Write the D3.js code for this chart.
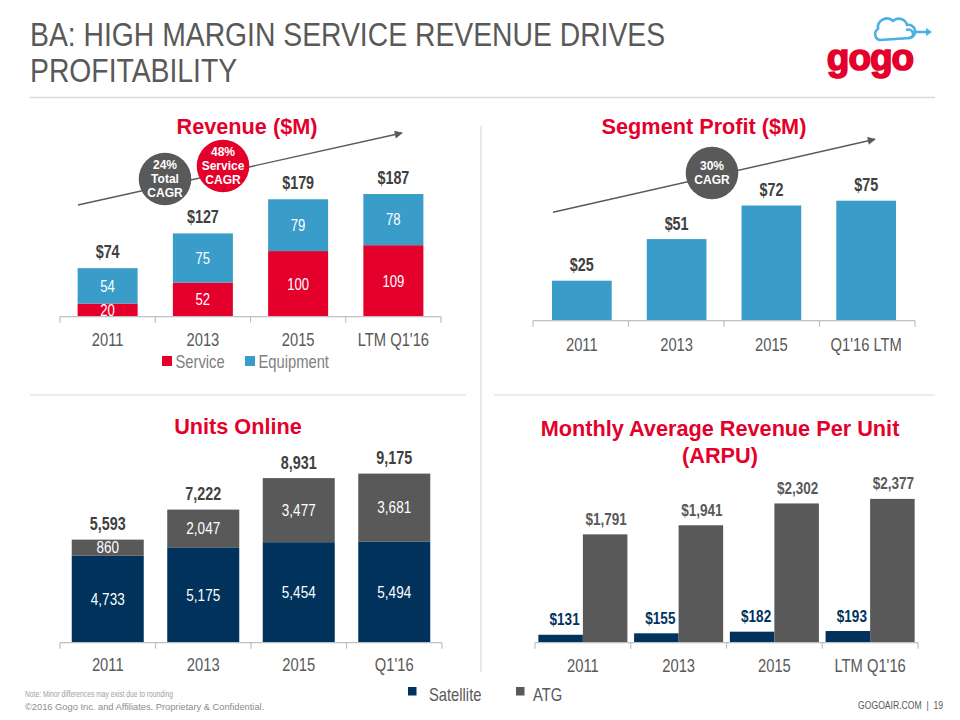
<!DOCTYPE html>
<html><head><meta charset="utf-8">
<script src="https://cdn.jsdelivr.net/npm/d3@7"></script>
<style>body{margin:0;background:#fff}svg{display:block}</style>
</head><body>
<svg id="c" width="960" height="720"></svg>
<script>
// ---------- DATA ----------
const titleLines = ["BA: HIGH MARGIN SERVICE REVENUE DRIVES", "PROFITABILITY"];

const revTitle = "Revenue ($M)";
const revCategories = ["2011", "2013", "2015", "LTM Q1'16"];
const revService = [20, 52, 100, 109];
const revEquipment = [54, 75, 79, 78];
const revTotals = [74, 127, 179, 187];
const revLegend = ["Service", "Equipment"];
const revBadges = [["24%", "Total", "CAGR"], ["48%", "Service", "CAGR"]];

const profitTitle = "Segment Profit ($M)";
const profitCategories = ["2011", "2013", "2015", "Q1'16 LTM"];
const profitValues = [25, 51, 72, 75];
const profitBadge = ["30%", "CAGR"];

const unitsTitle = "Units Online";
const unitsCategories = ["2011", "2013", "2015", "Q1'16"];
const unitsSatellite = [4733, 5175, 5454, 5494];
const unitsATG = [860, 2047, 3477, 3681];
const unitsTotals = [5593, 7222, 8931, 9175];

const arpuTitle = ["Monthly Average Revenue Per Unit", "(ARPU)"];
const arpuCategories = ["2011", "2013", "2015", "LTM Q1'16"];
const arpuSatellite = [131, 155, 182, 193];
const arpuATG = [1791, 1941, 2302, 2377];

const bottomLegend = ["Satellite", "ATG"];
const footNote = "Note: Minor differences may exist due to rounding";
const copyright = "\u00A92016 Gogo Inc. and Affiliates. Proprietary & Confidential.";
const pageTag = "GOGOAIR.COM  |  19";

// ---------- STYLE ----------
const SANS = "'Liberation Sans',Arial,sans-serif";
const SQ = 0.82; // horizontal squeeze to emulate a narrow face
const RED = "#E4002B", BLUE = "#3A9CC9", NAVY = "#00325C", DGRAY = "#595959";
const LABEL = "#404040", AXIS = "#BFBFBF", RULE = "#D9D9D9";

const svg = d3.select("#c");
const fmt = d3.format(",");

function narrow(sel, s = SQ) {
  sel.each(function () {
    const t = d3.select(this);
    const x = +t.attr("x") || 0;
    t.attr("x", 0).attr("transform", `translate(${x},0) scale(${s},1)`);
  });
  return sel;
}

// arrow marker
svg.append("defs").append("marker")
  .attr("id", "arr").attr("viewBox", "0 0 10 10").attr("refX", 9).attr("refY", 5)
  .attr("markerWidth", 9).attr("markerHeight", 8).attr("markerUnits", "userSpaceOnUse")
  .attr("orient", "auto")
  .append("path").attr("d", "M0,0 L10,5 L0,10 z").attr("fill", DGRAY);

// ---------- HEADER ----------
narrow(svg.append("g").selectAll("text").data(titleLines).join("text")
  .attr("x", 30).attr("y", (d, i) => 46 + i * 36)
  .style("font-family", SANS).style("font-size", "34px").attr("fill", DGRAY)
  .text(d => d), 0.833);
svg.append("line").attr("x1", 30).attr("x2", 935).attr("y1", 97.5).attr("y2", 97.5)
  .attr("stroke", RULE).attr("stroke-width", 1.5);

// logo
const logo = svg.append("g");
logo.append("path")
  .attr("d", "M880,40 A6,6 0 0 1 878,29 A9,9 0 0 1 893,21 A8.5,8.5 0 0 1 907,25 A6.5,6.5 0 0 1 910,38 Z")
  .attr("fill", "none").attr("stroke", "#4DB0E2").attr("stroke-width", 2.6).attr("stroke-linejoin", "round");
logo.append("path").attr("d", "M906,30 q6,-2 7,4 q0,4 -5,4 M913,32 h15")
  .attr("fill", "none").attr("stroke", "#4DB0E2").attr("stroke-width", 2.4);
logo.append("path").attr("d", "M926,28 L932,32 L926,36 Z").attr("fill", "#4DB0E2");
logo.append("text").attr("x", 870).attr("y", 70).attr("text-anchor", "middle")
  .style("font-family", SANS).style("font-weight", "bold").style("font-size", "37px")
  .attr("fill", RED).attr("stroke", RED).attr("stroke-width", 1.6).attr("letter-spacing", "-1").text("gogo");

// dividers
svg.append("line").attr("x1", 481).attr("x2", 481).attr("y1", 126).attr("y2", 672).attr("stroke", RULE).attr("stroke-width", 1.2);
svg.append("line").attr("x1", 30).attr("x2", 466).attr("y1", 395).attr("y2", 395).attr("stroke", RULE).attr("stroke-width", 1.2);
svg.append("line").attr("x1", 494).attr("x2", 935).attr("y1", 395).attr("y2", 395).attr("stroke", RULE).attr("stroke-width", 1.2);

// ---------- HELPERS ----------
function chartTitle(lines, cx, y0) {
  svg.append("g").selectAll("text").data([].concat(lines)).join("text")
    .attr("x", cx).attr("y", (d, i) => y0 + i * 27).attr("text-anchor", "middle")
    .style("font-family", SANS).style("font-weight", "bold").style("font-size", "21.7px")
    .attr("fill", RED).text(d => d);
}
function drawAxis(xBand, xEdges, y, off) {
  const g = svg.append("g");
  const ax = g.append("g").attr("transform", `translate(0,${y})`)
    .call(d3.axisBottom(xBand).tickSize(0));
  ax.select(".domain").remove();
  ax.selectAll("text").attr("y", off).attr("dy", "0.35em").attr("transform", `scale(${SQ},1)`)
    .style("font-family", SANS).style("font-size", "18px").attr("fill", DGRAY);
  const [a, b] = xEdges.range();
  g.append("line").attr("x1", a).attr("x2", b).attr("y1", y).attr("y2", y)
    .attr("stroke", AXIS).attr("stroke-width", 1.2);
  const edges = xEdges.domain().map(d => xEdges(d)).concat([b]);
  g.selectAll("line.tk").data(edges).join("line").attr("class", "tk")
    .attr("x1", d => d).attr("x2", d => d).attr("y1", y).attr("y2", y + 6)
    .attr("stroke", AXIS).attr("stroke-width", 1.2);
}
function badge(cx, cy, r, fill, lines) {
  const g = svg.append("g");
  g.append("circle").attr("cx", cx).attr("cy", cy).attr("r", r).attr("fill", fill);
  const n = lines.length;
  g.selectAll("text").data(lines).join("text")
    .attr("x", cx).attr("y", (d, i) => cy + (i - (n - 1) / 2) * 14).attr("dy", "0.35em")
    .attr("text-anchor", "middle").style("font-family", SANS).style("font-weight", "bold")
    .style("font-size", "12px").attr("fill", "#fff").text(d => d);
}
function arrow(x1, y1, x2, y2) {
  svg.append("line").attr("x1", x1).attr("y1", y1).attr("x2", x2).attr("y2", y2)
    .attr("stroke", DGRAY).attr("stroke-width", 1.4).attr("marker-end", "url(#arr)");
}

// ---------- REVENUE ----------
{
  const base = 316.7;
  const xE = d3.scaleBand().domain(revCategories).range([60, 441]);
  const x = d3.scaleBand().domain(revCategories).range([60, 441]).paddingInner(0.37).paddingOuter(0.185);
  const y = d3.scaleLinear().domain([0, 200]).range([base, base - 131.2]);
  chartTitle(revTitle, 247, 134);
  arrow(78, 205, 402, 133);
  badge(165, 179, 26.3, DGRAY, revBadges[0]);
  badge(223, 166, 26.3, RED, revBadges[1]);
  const table = revCategories.map((c, i) => ({ cat: c, service: revService[i], equipment: revEquipment[i] }));
  const series = d3.stack().keys(["service", "equipment"])(table);
  const colors = { service: RED, equipment: BLUE };
  series.forEach(s => {
    svg.append("g").selectAll("rect").data(s).join("rect")
      .attr("x", d => x(d.data.cat)).attr("width", x.bandwidth())
      .attr("y", d => y(d[1])).attr("height", d => y(d[0]) - y(d[1]))
      .attr("fill", colors[s.key]);
    narrow(svg.append("g").selectAll("text").data(s).join("text")
      .attr("x", d => x(d.data.cat) + x.bandwidth() / 2)
      .attr("y", d => (y(d[0]) + y(d[1])) / 2).attr("dy", "0.36em").attr("text-anchor", "middle")
      .style("font-family", SANS).style("font-size", "16px").attr("fill", "#fff")
      .text(d => d.data[s.key]));
  });
  narrow(svg.append("g").selectAll("text").data(revTotals).join("text")
    .attr("x", (d, i) => x(revCategories[i]) + x.bandwidth() / 2).attr("y", d => y(d) - 10)
    .attr("text-anchor", "middle").style("font-family", SANS).style("font-weight", "bold")
    .style("font-size", "17.5px").attr("fill", LABEL).text(d => "$" + d));
  drawAxis(x, xE, base, 23.3);
  // legend
  const lg = svg.append("g");
  const lx = [162, 245];
  revLegend.forEach((t, i) => {
    lg.append("rect").attr("x", lx[i]).attr("y", 356).attr("width", 10).attr("height", 10)
      .attr("fill", i === 0 ? RED : BLUE);
    narrow(lg.append("text").attr("x", lx[i] + 13.5).attr("y", 362).attr("dy", "0.35em")
      .style("font-family", SANS).style("font-size", "18px").attr("fill", "#7F7F7F").text(t));
  });
}

// ---------- SEGMENT PROFIT ----------
{
  const base = 320.7;
  const xE = d3.scaleBand().domain(profitCategories).range([533, 915]);
  const x = d3.scaleBand().domain(profitCategories).range([533, 915]).paddingInner(0.37).paddingOuter(0.2);
  const y = d3.scaleLinear().domain([0, 80]).range([base, base - 128]);
  chartTitle(profitTitle, 704, 134);
  arrow(553, 212.3, 875, 139.3);
  badge(712, 173, 26.3, DGRAY, profitBadge);
  svg.append("g").selectAll("rect").data(profitValues).join("rect")
    .attr("x", (d, i) => x(profitCategories[i])).attr("width", x.bandwidth())
    .attr("y", d => y(d)).attr("height", d => base - y(d)).attr("fill", BLUE);
  narrow(svg.append("g").selectAll("text").data(profitValues).join("text")
    .attr("x", (d, i) => x(profitCategories[i]) + x.bandwidth() / 2).attr("y", d => y(d) - 9.5)
    .attr("text-anchor", "middle").style("font-family", SANS).style("font-weight", "bold")
    .style("font-size", "17.5px").attr("fill", LABEL).text(d => "$" + d));
  drawAxis(x, xE, base, 24.3);
}

// ---------- UNITS ONLINE ----------
{
  const base = 642.7;
  const xE = d3.scaleBand().domain(unitsCategories).range([60, 442]);
  const x = d3.scaleBand().domain(unitsCategories).range([60, 442]).paddingInner(0.246).paddingOuter(0.123);
  const y = d3.scaleLinear().domain([0, 10000]).range([base, base - 184.3]);
  chartTitle(unitsTitle, 238, 434);
  const table = unitsCategories.map((c, i) => ({ cat: c, sat: unitsSatellite[i], atg: unitsATG[i] }));
  const series = d3.stack().keys(["sat", "atg"])(table);
  const colors = { sat: NAVY, atg: DGRAY };
  series.forEach(s => {
    svg.append("g").selectAll("rect").data(s).join("rect")
      .attr("x", d => x(d.data.cat)).attr("width", x.bandwidth())
      .attr("y", d => y(d[1])).attr("height", d => y(d[0]) - y(d[1]))
      .attr("fill", colors[s.key]);
    narrow(svg.append("g").selectAll("text").data(s).join("text")
      .attr("x", d => x(d.data.cat) + x.bandwidth() / 2)
      .attr("y", d => (y(d[0]) + y(d[1])) / 2).attr("dy", "0.36em").attr("text-anchor", "middle")
      .style("font-family", SANS).style("font-size", "16.5px").attr("fill", "#fff")
      .text(d => fmt(d.data[s.key])));
  });
  narrow(svg.append("g").selectAll("text").data(unitsTotals).join("text")
    .attr("x", (d, i) => x(unitsCategories[i]) + x.bandwidth() / 2).attr("y", d => y(d) - 9.5)
    .attr("text-anchor", "middle").style("font-family", SANS).style("font-weight", "bold")
    .style("font-size", "17.5px").attr("fill", LABEL).text(d => fmt(d)));
  drawAxis(x, xE, base, 22.5);
}

// ---------- ARPU ----------
{
  const base = 642.7;
  const xE = d3.scaleBand().domain(arpuCategories).range([535, 918]);
  const x0 = d3.scaleBand().domain(arpuCategories).range([535, 918]).paddingInner(0.07).paddingOuter(0.035);
  const x1 = d3.scaleBand().domain(["sat", "atg"]).range([0, x0.bandwidth()]);
  const y = d3.scaleLinear().domain([0, 2500]).range([base, base - 151.25]);
  chartTitle(arpuTitle, 720, 436);
  const table = arpuCategories.map((c, i) => ({ cat: c, sat: arpuSatellite[i], atg: arpuATG[i] }));
  const colors = { sat: NAVY, atg: DGRAY };
  const lcol = { sat: NAVY, atg: DGRAY };
  ["sat", "atg"].forEach(k => {
    svg.append("g").selectAll("rect").data(table).join("rect")
      .attr("x", d => x0(d.cat) + x1(k)).attr("width", x1.bandwidth())
      .attr("y", d => y(d[k])).attr("height", d => base - y(d[k])).attr("fill", colors[k]);
    narrow(svg.append("g").selectAll("text").data(table).join("text")
      .attr("x", d => x0(d.cat) + x1(k) + x1.bandwidth() / 2 + (k === "sat" ? 4 : 1))
      .attr("y", d => y(d[k]) - 9.5).attr("text-anchor", "middle")
      .style("font-family", SANS).style("font-weight", "bold").style("font-size", "16.5px")
      .attr("fill", lcol[k]).text(d => "$" + fmt(d[k])));
  });
  drawAxis(x0, xE, base, 23);
}

// ---------- BOTTOM LEGEND & FOOTER ----------
{
  const lg = svg.append("g");
  const lx = [408, 516];
  const tx = [429, 533];
  bottomLegend.forEach((t, i) => {
    lg.append("rect").attr("x", lx[i]).attr("y", 687).attr("width", 8.5).attr("height", 8.5)
      .attr("fill", i === 0 ? NAVY : DGRAY);
    narrow(lg.append("text").attr("x", tx[i]).attr("y", 695).attr("dy", "0.35em")
      .style("font-family", SANS).style("font-size", "18px").attr("fill", DGRAY).text(t));
  });
  narrow(svg.append("text").attr("x", 25).attr("y", 697.5).style("font-family", SANS)
    .style("font-size", "8.2px").attr("fill", "#A0A0A0").text(footNote));
  svg.append("text").attr("x", 25).attr("y", 709.5).style("font-family", SANS)
    .style("font-size", "9.3px").attr("fill", "#8C8C8C").text(copyright);
  narrow(svg.append("text").attr("x", 943).attr("y", 709.5).attr("text-anchor", "end")
    .style("font-family", SANS).style("font-size", "10.5px").attr("fill", DGRAY)
    .style("white-space", "pre").text(pageTag));
}
</script>
</body></html>
